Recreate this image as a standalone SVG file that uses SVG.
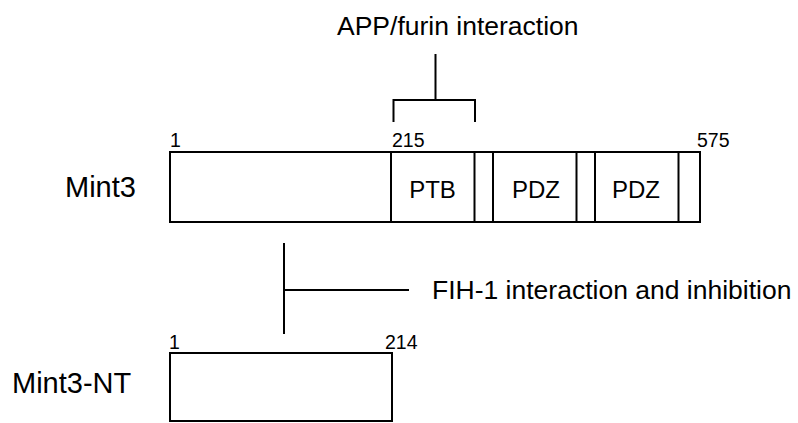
<svg xmlns="http://www.w3.org/2000/svg" width="798" height="423" viewBox="0 0 798 423">
<style>
.box{fill:#fff;stroke:#000;stroke-width:2}
.ln{stroke:#000;stroke-width:2;fill:none}
text{font-family:"Liberation Sans",Arial,sans-serif;fill:#000}
.lab{font-size:29px}
.note{font-size:26.5px}
.dom{font-size:24px;text-anchor:middle}
.num{font-size:19.5px}
</style>
<rect width="798" height="423" fill="#fff"/>
<g id="mint3">
<text class="lab" x="65" y="197">Mint3</text>
<rect class="box" x="170" y="152" width="530" height="70"/>
<line class="ln" x1="391" y1="152" x2="391" y2="222"/>
<line class="ln" x1="474.5" y1="152" x2="474.5" y2="222"/>
<line class="ln" x1="493" y1="152" x2="493" y2="222"/>
<line class="ln" x1="576.5" y1="152" x2="576.5" y2="222"/>
<line class="ln" x1="595" y1="152" x2="595" y2="222"/>
<line class="ln" x1="678.5" y1="152" x2="678.5" y2="222"/>
<text class="dom" x="432.5" y="198">PTB</text>
<text class="dom" x="536" y="198">PDZ</text>
<text class="dom" x="636" y="198">PDZ</text>
<text class="num" x="170" y="147">1</text>
<text class="num" x="392" y="147">215</text>
<text class="num" x="697" y="147">575</text>
</g>
<g id="mint3nt">
<text class="lab" x="12" y="393">Mint3-NT</text>
<rect class="box" x="170" y="353" width="222" height="68"/>
<text class="num" x="169" y="349">1</text>
<text class="num" x="385" y="349">214</text>
</g>
<g id="labels">
<text class="note" x="337" y="35">APP/furin interaction</text>
<text class="note" x="432" y="299">FIH-1 interaction and inhibition</text>
</g>
<g id="connectors">
<path class="ln" d="M435.5 54V100M393.5 122V100H475V122"/>
<path class="ln" d="M284 243V334M284 290H409"/>
</g>
</svg>
